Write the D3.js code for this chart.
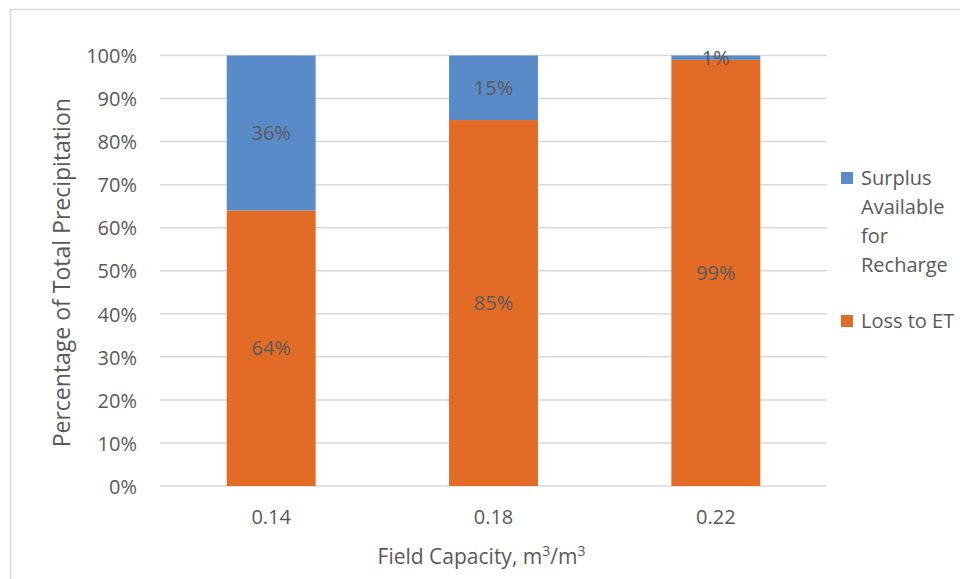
<!DOCTYPE html>
<html>
<head>
<meta charset="utf-8">
<script src="https://cdn.jsdelivr.net/npm/d3@7"></script>
<style>
  html, body { margin: 0; padding: 0; background: #fff; }
  svg { display: block; font-family: "Open Sans", "Noto Sans", sans-serif; }
</style>
</head>
<body>
<svg id="chart" width="960" height="579"></svg>
<script>
// Field capacity categories and the share of precipitation in each fate (%)
const categories = ["0.14", "0.18", "0.22"];
const lossToET = [64, 85, 99];
const surplusRecharge = [36, 15, 1];
const yTicks = [0, 10, 20, 30, 40, 50, 60, 70, 80, 90, 100];
const seriesNames = ["Surplus Available for Recharge", "Loss to ET"];

const svg = d3.select("#chart");
const textColor = "#595959";
const gridColor = "#d9d9d9";
const colors = { surplus: "#5a8bc9", loss: "#e26c26" };
const labelSize = "20px";

// Chart frame (only top and left edges fall inside the view)
svg.append("line").attr("x1", 10).attr("x2", 960).attr("y1", 9.5).attr("y2", 9.5)
  .attr("stroke", gridColor).attr("stroke-width", 1.5);
svg.append("line").attr("x1", 10.5).attr("x2", 10.5).attr("y1", 9).attr("y2", 579)
  .attr("stroke", gridColor).attr("stroke-width", 1.5);

const plot = { left: 160, right: 827, top: 55.5, bottom: 486 };

const x = d3.scaleBand().domain(categories).range([plot.left, plot.right]).padding(0);
const y = d3.scaleLinear().domain([0, 100]).range([plot.bottom, plot.top]);
const barW = x.bandwidth() * 0.4;

// Horizontal gridlines
svg.append("g").selectAll("line").data(yTicks).join("line")
  .attr("x1", plot.left).attr("x2", plot.right)
  .attr("y1", d => y(d)).attr("y2", d => y(d))
  .attr("stroke", gridColor).attr("stroke-width", 1.5);

// Y axis labels
const yAxis = d3.axisLeft(y).tickValues(yTicks).tickFormat(d => d + "%").tickSize(0).tickPadding(0);
const yg = svg.append("g").attr("transform", `translate(${plot.left - 23},0)`).call(yAxis);
yg.select(".domain").remove();
yg.selectAll("text").attr("fill", textColor).style("font-size", labelSize)
  .style("font-family", "'Open Sans', sans-serif").attr("dy", "0.36em");

// X axis labels
const xAxis = d3.axisBottom(x).tickSize(0).tickPadding(0);
const xg = svg.append("g").attr("transform", `translate(0,524)`).call(xAxis);
xg.select(".domain").remove();
xg.selectAll("text").attr("fill", textColor).style("font-size", labelSize)
  .style("font-family", "'Open Sans', sans-serif").attr("y", 0).attr("dy", 0);

// Stacked bars
const rows = categories.map((c, i) => ({ cat: c, loss: lossToET[i], surplus: surplusRecharge[i] }));
const stack = d3.stack().keys(["loss", "surplus"])(rows);

const layers = svg.append("g").selectAll("g").data(stack).join("g")
  .attr("fill", d => colors[d.key]);
layers.selectAll("rect").data(d => d).join("rect")
  .attr("x", d => x(d.data.cat) + (x.bandwidth() - barW) / 2)
  .attr("width", barW)
  .attr("y", d => y(d[1]))
  .attr("height", d => y(d[0]) - y(d[1]));

// Value labels centred in each segment
const labels = svg.append("g");
stack.forEach(layer => {
  labels.selectAll(null).data(layer).join("text")
    .attr("x", d => x(d.data.cat) + x.bandwidth() / 2)
    .attr("y", d => y((d[0] + d[1]) / 2))
    .attr("dy", "0.36em")
    .attr("text-anchor", "middle")
    .attr("fill", textColor)
    .style("font-size", labelSize)
    .text(d => (d[1] - d[0]) + "%");
});

// Axis titles
svg.append("text")
  .attr("transform", `translate(70,${(plot.top + plot.bottom) / 2 + 2}) rotate(-90)`)
  .attr("text-anchor", "middle").attr("fill", textColor).style("font-size", "23px")
  .text("Percentage of Total Precipitation");

const xt = svg.append("text")
  .attr("x", (plot.left + plot.right) / 2 - 12).attr("y", 564)
  .attr("text-anchor", "middle").attr("fill", textColor).style("font-size", "21px");
xt.append("tspan").text("Field Capacity, m");
xt.append("tspan").attr("dy", -8).style("font-size", "14px").text("3");
xt.append("tspan").attr("dy", 8).text("/m");
xt.append("tspan").attr("dy", -8).style("font-size", "14px").text("3");

// Legend
const legend = svg.append("g");
const legendItems = [
  { lines: ["Surplus", "Available", "for", "Recharge"], color: colors.surplus, top: 178 },
  { lines: ["Loss to ET"], color: colors.loss, top: 321 }
];
legendItems.forEach((it, i) => {
  legend.append("rect").attr("x", 841).attr("y", it.top - 6).attr("width", 12).attr("height", 12)
    .attr("fill", it.color);
  const t = legend.append("text").attr("x", 861).attr("y", it.top)
    .attr("fill", textColor).style("font-size", labelSize)
    .attr("aria-label", seriesNames[i]);
  it.lines.forEach((ln, j) => {
    t.append("tspan").attr("x", 861).attr("dy", j === 0 ? "0.36em" : 29).text(ln);
  });
});
</script>
</body>
</html>
